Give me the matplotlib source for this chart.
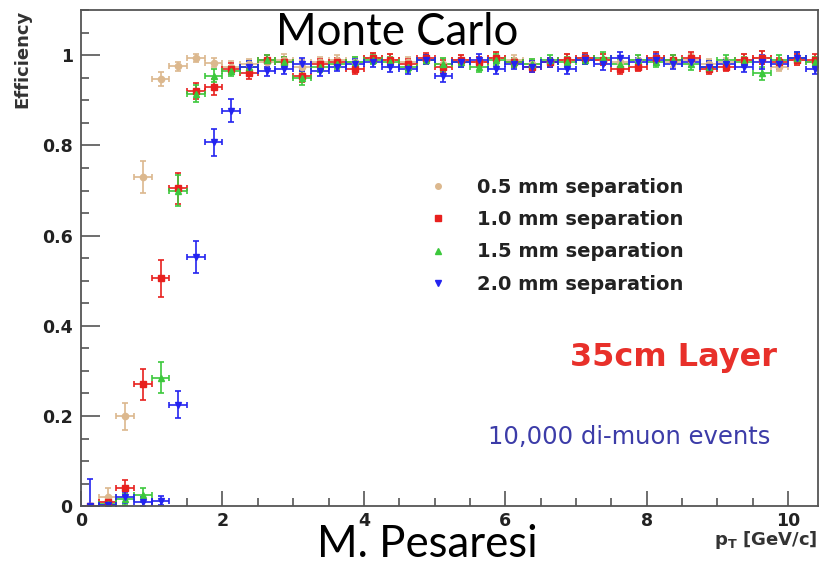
import numpy as np
import matplotlib
matplotlib.use("Agg")
import matplotlib.pyplot as plt
from matplotlib.lines import Line2D
from matplotlib.ticker import MultipleLocator

# ---------------------------------------------------------------
# Data: pT bin centres, efficiencies
# ---------------------------------------------------------------
pt_bins = [0.125 + 0.25 * i for i in range(42)]
pt_halfwidth = 0.125

eff_05 = [0.0, 0.02, 0.20, 0.73, 0.947, 0.976, 0.994, 0.983, 0.975,
          0.98, 0.985, 0.99, 0.975, 0.985, 0.99, 0.985, 0.995, 0.99, 0.985, 0.99,
          0.98, 0.99, 0.985, 0.995, 0.99, 0.98, 0.985, 0.99, 0.995, 0.99, 0.985,
          0.99, 0.995, 0.985, 0.99, 0.98, 0.985, 0.99, 0.995, 0.975, 0.99, 0.985]
eff_10 = [0.0, 0.01, 0.04, 0.27, 0.505, 0.705, 0.92, 0.93, 0.97,
          0.96, 0.99, 0.985, 0.955, 0.98, 0.985, 0.97, 0.995, 0.99, 0.98, 0.995,
          0.975, 0.99, 0.985, 0.995, 0.985, 0.975, 0.985, 0.99, 0.995, 0.99, 0.97,
          0.975, 0.995, 0.99, 0.995, 0.97, 0.975, 0.99, 0.995, 0.985, 0.99, 0.99]
eff_15 = [0.0, 0.005, 0.015, 0.025, 0.285, 0.70, 0.915, 0.955, 0.965,
          0.975, 0.99, 0.985, 0.95, 0.975, 0.98, 0.985, 0.99, 0.985, 0.975, 0.99,
          0.98, 0.985, 0.975, 0.99, 0.985, 0.98, 0.99, 0.985, 0.99, 0.995, 0.98,
          0.99, 0.985, 0.99, 0.98, 0.975, 0.99, 0.985, 0.96, 0.99, 0.995, 0.985]
eff_20 = [0.0, 0.003, 0.02, 0.01, 0.012, 0.225, 0.553, 0.807, 0.877,
          0.975, 0.965, 0.97, 0.98, 0.965, 0.975, 0.98, 0.985, 0.975, 0.97, 0.99,
          0.955, 0.985, 0.99, 0.97, 0.98, 0.975, 0.985, 0.97, 0.99, 0.98, 0.995,
          0.985, 0.99, 0.98, 0.985, 0.975, 0.98, 0.975, 0.985, 0.98, 0.995, 0.97]

plateau_err = [0.012, 0.01, 0.012, 0.015, 0.012, 0.01, 0.012, 0.01, 0.012, 0.012, 0.01,
               0.015, 0.01, 0.012, 0.012, 0.01, 0.012, 0.01, 0.012, 0.01, 0.012, 0.012,
               0.01, 0.012, 0.01, 0.012, 0.012, 0.01, 0.012, 0.015, 0.01, 0.012, 0.012]
err_05 = [0.0, 0.02, 0.03, 0.035, 0.015, 0.01, 0.008, 0.01, 0.012] + plateau_err
err_10 = [0.0, 0.01, 0.018, 0.035, 0.04, 0.035, 0.018, 0.018, 0.012] + plateau_err
err_15 = [0.0, 0.008, 0.012, 0.015, 0.035, 0.035, 0.018, 0.015, 0.012] + plateau_err
err_20 = [0.06, 0.008, 0.012, 0.01, 0.01, 0.03, 0.035, 0.03, 0.025] + plateau_err

labels = ["0.5 mm separation", "1.0 mm separation",
          "1.5 mm separation", "2.0 mm separation"]
colors = ["#dcb88e", "#e8201e", "#3cc83c", "#2424f0"]
markers = ["o", "s", "^", "v"]

# ---------------------------------------------------------------
# Figure
# ---------------------------------------------------------------
fig = plt.figure(figsize=(8.21, 5.65), dpi=100)
ax = fig.add_axes([0.0987, 0.104, 0.8975, 0.878])

series = [eff_05, eff_10, eff_15, eff_20]
errors = [err_05, err_10, err_15, err_20]
for eff, err, c, m in zip(series, errors, colors, markers):
    ax.errorbar(pt_bins, eff, xerr=pt_halfwidth, yerr=err, fmt=m, color=c,
                ms=4.5, elinewidth=1.2, capsize=2, capthick=1.2)

ax.set_xlim(0, 10.42)
ax.set_ylim(0, 1.1)
ax.xaxis.set_major_locator(MultipleLocator(2))
ax.xaxis.set_minor_locator(MultipleLocator(0.5))
ax.yaxis.set_minor_locator(MultipleLocator(0.05))
ax.set_yticks([0, 0.2, 0.4, 0.6, 0.8, 1.0])
ax.set_yticklabels(["0", "0.2", "0.4", "0.6", "0.8", "1"])

for s in ax.spines.values():
    s.set_color("#555555")
    s.set_linewidth(1.3)
ax.tick_params(axis="y", which="major", direction="in", length=14, width=1.2,
               color="#555555", labelsize=12.5, pad=6)
ax.tick_params(axis="y", which="minor", direction="in", length=6, width=1.2,
               color="#555555")
ax.tick_params(axis="x", which="major", direction="in", length=11, width=1.2,
               color="#555555", labelsize=12.5, pad=4)
ax.tick_params(axis="x", which="minor", direction="in", length=6, width=1.2,
               color="#555555")
for lbl in ax.get_xticklabels() + ax.get_yticklabels():
    lbl.set_fontweight("bold")
    lbl.set_color("#222222")

fig.text(0.027, 0.982, "Efficiency", rotation=90, ha="center", va="top",
         fontsize=13, fontweight="bold", color="#333333")
fig.text(0.996, 0.025, r"p$_{\mathregular{T}}$ [GeV/c]", ha="right", va="bottom",
         fontsize=13, fontweight="bold", color="#333333")

# legend with plain markers (no error bars), like the reference
handles = [Line2D([], [], marker=m, color=c, ls="none", ms=4)
           for c, m in zip(colors, markers)]
leg = ax.legend(handles, labels, loc="upper left", bbox_to_anchor=(0.500, 0.716),
                bbox_transform=fig.transFigure, frameon=False,
                prop={"size": 14, "weight": "bold"}, handlelength=1.0,
                handletextpad=1.5, labelspacing=0.68)
for t in leg.get_texts():
    t.set_color("#222222")

ax.text(0.945, 0.30, "35cm Layer", transform=ax.transAxes, ha="right",
        va="center", fontsize=23, fontweight="bold", color="#e8302a")
ax.text(0.935, 0.14, "10,000 di-muon events", transform=ax.transAxes,
        ha="right", va="center", fontsize=17.5, color="#3c3ca8")

fig.text(0.484, 0.942, "Monte Carlo", ha="center", va="center",
         fontsize=31.5, family="Lato", color="black")
fig.text(0.52, 0.037, "M. Pesaresi", ha="center", va="center",
         fontsize=31.5, family="Lato", color="black")

fig.savefig("out.png", dpi=100)
